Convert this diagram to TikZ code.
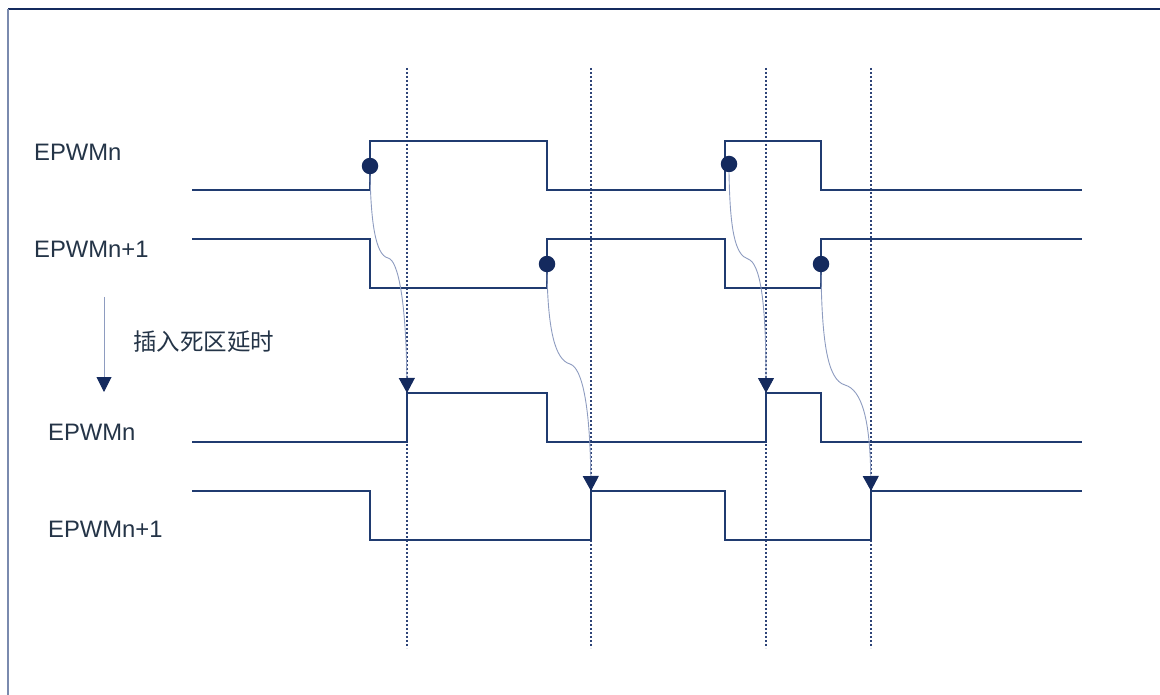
\documentclass[tikz,border=0pt]{standalone}
\usepackage{fontspec}
\setmainfont{Liberation Sans}
\newfontfamily\cjk{Noto Sans CJK SC}
\usetikzlibrary{arrows.meta}
\definecolor{navyc}{HTML}{142A5E}
\definecolor{wavec}{HTML}{203B70}
\definecolor{curvec}{HTML}{8E9CC0}
\definecolor{dotlc}{HTML}{2E4478}
\definecolor{framel}{HTML}{7A8AAE}
\definecolor{txtc}{HTML}{243447}
\tikzset{
  wave/.style={draw=wavec, line width=1.3pt},
  guide/.style={draw=dotlc, line width=1.1pt, dash pattern=on 2pt off 2pt},
  edgedot/.style={circle, fill=navyc, inner sep=0pt, minimum size=16.5pt},
  delay/.style={draw=curvec, line width=0.9pt, -{Triangle[width=16pt,length=15pt,color=navyc]}},
  lbl/.style={anchor=base west, inner sep=0pt, text=txtc, font=\fontsize{23.8}{24}\selectfont},
}
\begin{document}
\begin{tikzpicture}[x=1pt,y=-1pt]
\useasboundingbox (0,0) rectangle (1160,695);
% frame
\draw[draw=navyc, line width=1.3pt] (8,9) -- (1160,9);
\draw[draw=framel, line width=1.6pt] (8,9) -- (8,695);
% guide lines
\foreach \x/\n in {407/g1,591/g2,766/g3,871/g4}{
  \coordinate (\n a) at (\x,68);
  \coordinate (\n b) at (\x,648);
  \draw[guide] (\n a) -- (\n b);
}
% waveforms
\draw[wave] (192,190) -- (370,190) -- (370,141) -- (547,141) -- (547,190) -- (725,190) -- (725,141) -- (821,141) -- (821,190) -- (1082,190);
\draw[wave] (192,239) -- (370,239) -- (370,288) -- (547,288) -- (547,239) -- (725,239) -- (725,288) -- (821,288) -- (821,239) -- (1082,239);
\draw[wave] (192,442) -- (407,442) -- (407,393) -- (547,393) -- (547,442) -- (766,442) -- (766,393) -- (821,393) -- (821,442) -- (1082,442);
\draw[wave] (192,491) -- (370,491) -- (370,540) -- (591,540) -- (591,491) -- (725,491) -- (725,540) -- (871,540) -- (871,491) -- (1082,491);
% labels
\node[lbl] (l1) at (34,161) {EPWMn};
\node[lbl] (l2) at (34,258) {EPWMn+1};
\node[lbl] (l3) at (48,440) {EPWMn};
\node[lbl] (l4) at (48,537) {EPWMn+1};
\node[anchor=west, inner sep=0pt, text=txtc, font=\cjk\fontsize{23.5}{24}\selectfont] (ins) at (133,342) {插入死区延时};
% left arrow
\coordinate (la) at (104,297);
\coordinate (lb) at (104,392);
\draw[draw=curvec, line width=1pt, -{Triangle[width=15pt,length=15pt,color=navyc]}] (la) -- (lb);
% edge dots
\node[edgedot] (d1) at (370,166) {};
\node[edgedot] (d2) at (547,264) {};
\node[edgedot] (d3) at (729,164) {};
\node[edgedot] (d4) at (821,264) {};
% targets
\coordinate (t1) at (407,393);
\coordinate (t2) at (591,491);
\coordinate (t3) at (766,393);
\coordinate (t4) at (871,491);
% delay curves
\draw[delay] (d1.south) .. controls (371,220) and (375,255) .. (388,258) .. controls (398,260) and (406,300) .. (t1);
\draw[delay] (d2.south) .. controls (548,330) and (555,360) .. (570,364) .. controls (583,368) and (590,410) .. (t2);
\draw[delay] (d3.south) .. controls (730,230) and (735,255) .. (748,259) .. controls (760,263) and (766,300) .. (t3);
\draw[delay] (d4.south) .. controls (822,340) and (827,380) .. (845,385) .. controls (862,390) and (870,420) .. (t4);
\end{tikzpicture}
\end{document}
